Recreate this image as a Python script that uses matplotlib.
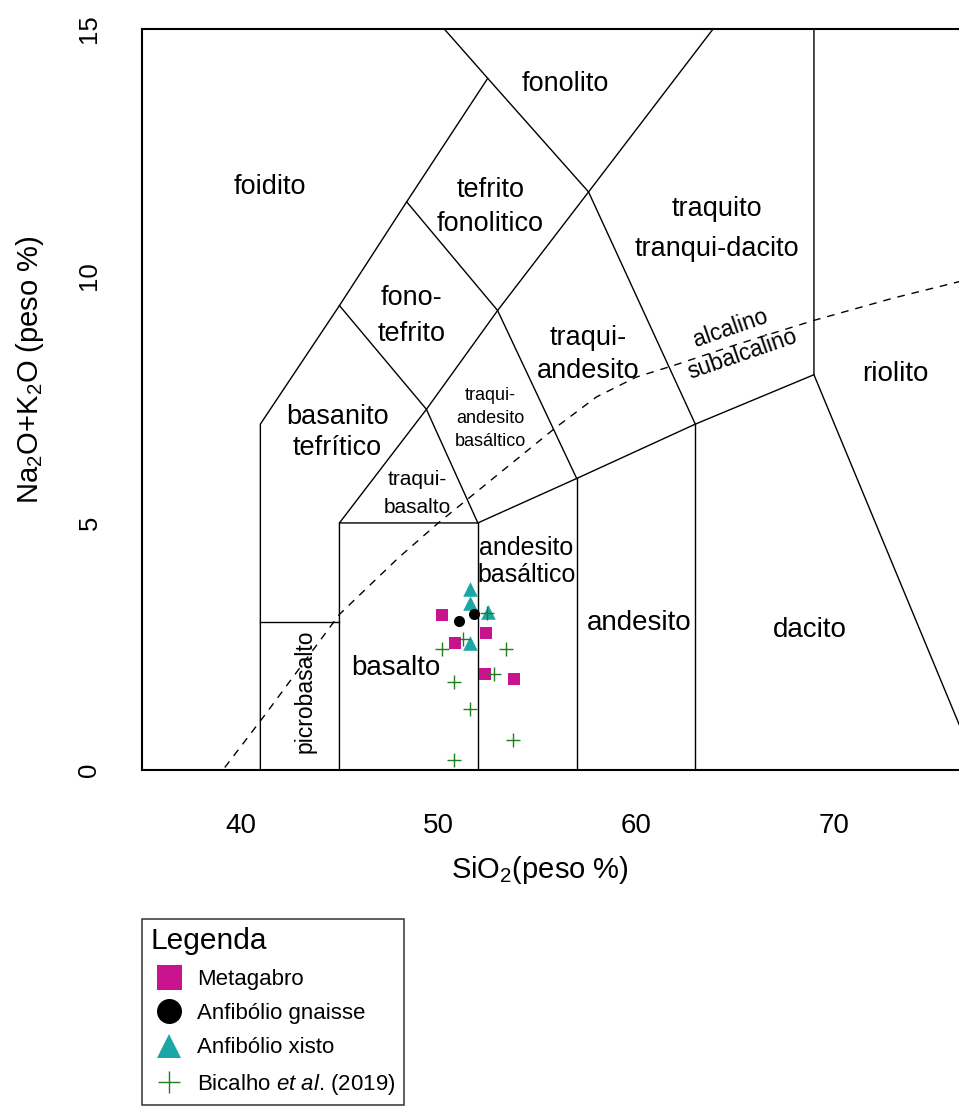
import matplotlib
matplotlib.use("Agg")
import matplotlib.pyplot as plt
from matplotlib.lines import Line2D

plt.rcParams['font.family'] = ['Liberation Sans', 'DejaVu Sans']
plt.rcParams['mathtext.fontset'] = 'custom'
plt.rcParams['mathtext.rm'] = 'Liberation Sans'
plt.rcParams['mathtext.it'] = 'Liberation Sans:italic'

# TAS field boundaries (SiO2, Na2O+K2O)
tas_boundaries = [
    [(41, 0), (41, 7), (45, 9.4), (48.4, 11.5), (52.5, 14)],
    [(50.3, 15), (52.5, 14), (57.6, 11.7), (63, 7)],
    [(41, 3), (45, 3)],
    [(45, 0), (45, 5), (52, 5), (57, 5.9), (63, 7), (69, 8)],
    [(52, 0), (52, 5)],
    [(57, 0), (57, 5.9)],
    [(63, 0), (63, 7)],
    [(69, 15), (69, 8), (77.3, 0)],
    [(45, 5), (49.4, 7.3), (53, 9.3), (57.6, 11.7), (63.9, 15)],
    [(45, 9.4), (49.4, 7.3), (52, 5)],
    [(48.4, 11.5), (53, 9.3), (57, 5.9)],
]

# alkaline / subalkaline divide
divide_si = [39.2, 41.3, 45.0, 48.0, 50.0, 52.0, 54.0, 56.0, 58.0, 60.0, 62.0, 65.0, 69.0, 73.0, 77.0, 80.0]
divide_alk = [0.05, 1.15, 3.15, 4.3, 5.0, 5.65, 6.3, 6.95, 7.55, 7.95, 8.2, 8.6, 9.1, 9.55, 9.95, 10.25]

# field names
field_names = ["foidito", "fonolito", "tefrito\nfonolitico", "traquito\ntranqui-dacito",
               "fono-\ntefrito", "traqui-\nandesito", "traqui-\nandesito\nbasáltico",
               "traqui-\nbasalto", "basanito\ntefrítico", "basalto", "picrobasalto",
               "andesito\nbasáltico", "andesito", "dacito", "riolito"]
field_x = [41.5, 56.43, 52.63, 64.07, 48.64, 57.6, 52.63, 48.93, 44.9, 47.83, 43.28, 54.46, 60.17, 68.77, 73.12]
field_y = [11.8, 13.88, 11.39, 10.95, 9.19, 8.4, 7.11, 5.6, 6.83, 2.06, 1.6, 4.22, 2.97, 2.83, 8.02]
field_size = [19.5, 19.5, 19.5, 19.5, 19.5, 19.5, 13, 15, 19.5, 20, 16.5, 18, 20, 20, 20]
field_spacing = [1.2, 1.2, 1.38, 1.7, 1.47, 1.35, 1.46, 1.62, 1.29, 1.2, 1.2, 1.17, 1.2, 1.2, 1.2]
field_rot = [0, 0, 0, 0, 0, 0, 0, 0, 0, 0, 90, 0, 0, 0, 0]

# samples
metagabro_si = [50.19, 50.86, 52.43, 52.35, 53.85]
metagabro_alk = [3.13, 2.56, 2.77, 1.95, 1.85]
gnaisse_si = [51.03, 51.81]
gnaisse_alk = [3.02, 3.15]
xisto_si = [51.62, 51.62, 52.5, 51.59]
xisto_alk = [3.67, 3.38, 3.2, 2.56]
bicalho_si = [52.47, 51.25, 50.19, 53.44, 50.81, 52.80, 51.59, 53.78, 50.81]
bicalho_alk = [3.17, 2.66, 2.44, 2.44, 1.78, 1.94, 1.23, 0.61, 0.20]

magenta = '#C8128E'
teal = '#1CA6A6'
green = '#1F7F1F'

fig = plt.figure(figsize=(9.59, 11.08), dpi=100)
ax = fig.add_axes([0.1478, 0.3051, 0.9277, 0.6688])
ax.set_xlim(35, 80)
ax.set_ylim(0, 15)

for seg in tas_boundaries:
    xs = [p[0] for p in seg]
    ys = [p[1] for p in seg]
    ax.plot(xs, ys, color='black', lw=1.0, zorder=2)

ax.plot(divide_si, divide_alk, color='black', lw=1.0, dashes=(5.5, 5), zorder=2)

for name, x, y, fs, ls, rot in zip(field_names, field_x, field_y, field_size, field_spacing, field_rot):
    ax.text(x, y, name, fontsize=fs, ha='center', va='center', ma='center',
            linespacing=ls, rotation=rot, zorder=3)

ax.text(64.77, 8.95, "alcalino", fontsize=16.5, rotation=19, rotation_mode='anchor',
        ha='center', va='center', zorder=3)
ax.text(65.36, 8.42, "subalcalino", fontsize=16.5, rotation=19, rotation_mode='anchor',
        ha='center', va='center', zorder=3)

ax.scatter(metagabro_si, metagabro_alk, marker='s', s=78, color=magenta, lw=0, zorder=4)
ax.scatter(xisto_si, xisto_alk, marker='^', s=110, color=teal, lw=0, zorder=5)
ax.scatter(gnaisse_si, gnaisse_alk, marker='o', s=64, color='black', lw=0, zorder=6)
ax.scatter(bicalho_si, bicalho_alk, marker='+', s=110, color=green, lw=1.0, zorder=7)

ax.set_xticks([40, 50, 60, 70])
ax.set_yticks([0, 5, 10, 15])
ax.tick_params(axis='x', length=0, pad=31, labelsize=20)
ax.tick_params(axis='y', length=0, pad=29, labelsize=18.5, labelrotation=90)
for lbl in ax.get_yticklabels():
    lbl.set_va('center')
for side in ['left', 'bottom', 'top']:
    ax.spines[side].set_linewidth(1.5)
ax.spines['right'].set_visible(False)

fig.text(30 / 959, 1 - 370 / 1108, 'Na$_2$O+K$_2$O (peso %)', rotation=90,
         fontsize=21, ha='center', va='center')
fig.text(540 / 959, 1 - 870 / 1108, 'SiO$_2$(peso %)', fontsize=21,
         ha='center', va='center')

handles = [
    Line2D([], [], marker='s', ls='none', markersize=18, color=magenta, markeredgewidth=0),
    Line2D([], [], marker='o', ls='none', markersize=18, color='black', markeredgewidth=0),
    Line2D([], [], marker='^', ls='none', markersize=17, color=teal, markeredgewidth=0),
    Line2D([], [], marker='+', ls='none', markersize=16, color=green, markeredgewidth=1.0),
]
labels = ["Metagabro", "Anfibólio gnaisse", "Anfibólio xisto", "Bicalho $\\it{et\\ al}$. (2019)"]
leg = fig.legend(handles, labels, loc='upper left', bbox_to_anchor=(141.7 / 959, 1 - 919 / 1108),
                 bbox_transform=fig.transFigure, fontsize=16, title='Legenda',
                 title_fontsize=21.5, alignment='left', fancybox=False, framealpha=1,
                 edgecolor='#333333', borderpad=0.38, handlelength=1.7, handletextpad=0.4,
                 labelspacing=0.6, borderaxespad=0)
leg.get_frame().set_linewidth(1.1)

fig.savefig('out.png', dpi=100)
